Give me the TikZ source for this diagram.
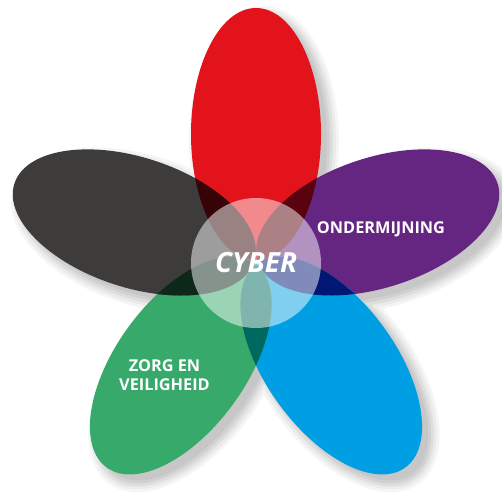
\documentclass[tikz,border=0pt]{standalone}
\usepackage{fontspec}
\setsansfont{Open Sans}

\definecolor{cRed}{RGB}{227,19,27}
\definecolor{cPurple}{RGB}{101,38,130}
\definecolor{cBlue}{RGB}{0,159,227}
\definecolor{cGreen}{RGB}{55,169,107}
\definecolor{cGray}{RGB}{61,60,59}
\definecolor{cRedPurple}{RGB}{90,3,14}
\definecolor{cPurpleBlue}{RGB}{0,24,116}
\definecolor{cBlueGreen}{RGB}{0,105,95}
\definecolor{cGreenGray}{RGB}{13,40,25}
\definecolor{cGrayRed}{RGB}{54,4,6}

\tikzset{
  petal/.style={rotate around={#1:(256,230)}},
  petaltext/.style={text=white, font=\sffamily\bfseries\fontsize{16.3}{19}\selectfont, align=center, inner sep=0pt},
}

\begin{document}
\begin{tikzpicture}[x=1pt, y=1pt]
  \useasboundingbox (0,0) rectangle (502,492);

  % soft shadow, outer layers first
  \foreach \e/\g in {10/4, 7/8, 4/13, 1/18, -2/22}{
    \foreach \a in {90,18,-54,-126,162}
      \fill[black!\g, shift={(8,-8)}, petal=\a] (384,230) ellipse [x radius=126+\e, y radius=65+\e];
  }

  % the five leaves
  \foreach \a/\c in {90/cRed, 18/cPurple, -54/cBlue, -126/cGreen, 162/cGray}
    \fill[\c, petal=\a] (384,230) ellipse [x radius=126, y radius=65];

  % overlaps of neighbours
  \foreach \a/\b/\c in {90/18/cRedPurple, 18/-54/cPurpleBlue, -54/-126/cBlueGreen,
                        -126/162/cGreenGray, 162/90/cGrayRed}{
    \begin{scope}
      \clip[petal=\a] (384,230) ellipse [x radius=126, y radius=65];
      \fill[\c, petal=\b] (384,230) ellipse [x radius=126, y radius=65];
    \end{scope}
  }

  \node[circle, fill=white, fill opacity=0.5, text opacity=1, minimum size=130pt, inner sep=0pt,
        text=white, font=\sffamily\bfseries\itshape\fontsize{27.8}{28}\selectfont] (hub) at (256,229) {CYBER};

  \node[petaltext] (ondermijning) at (381,263) {ONDERMIJNING};
  \node[petaltext] (zorg) at (164.5,116.5) {ZORG EN\\VEILIGHEID};
\end{tikzpicture}
\end{document}
